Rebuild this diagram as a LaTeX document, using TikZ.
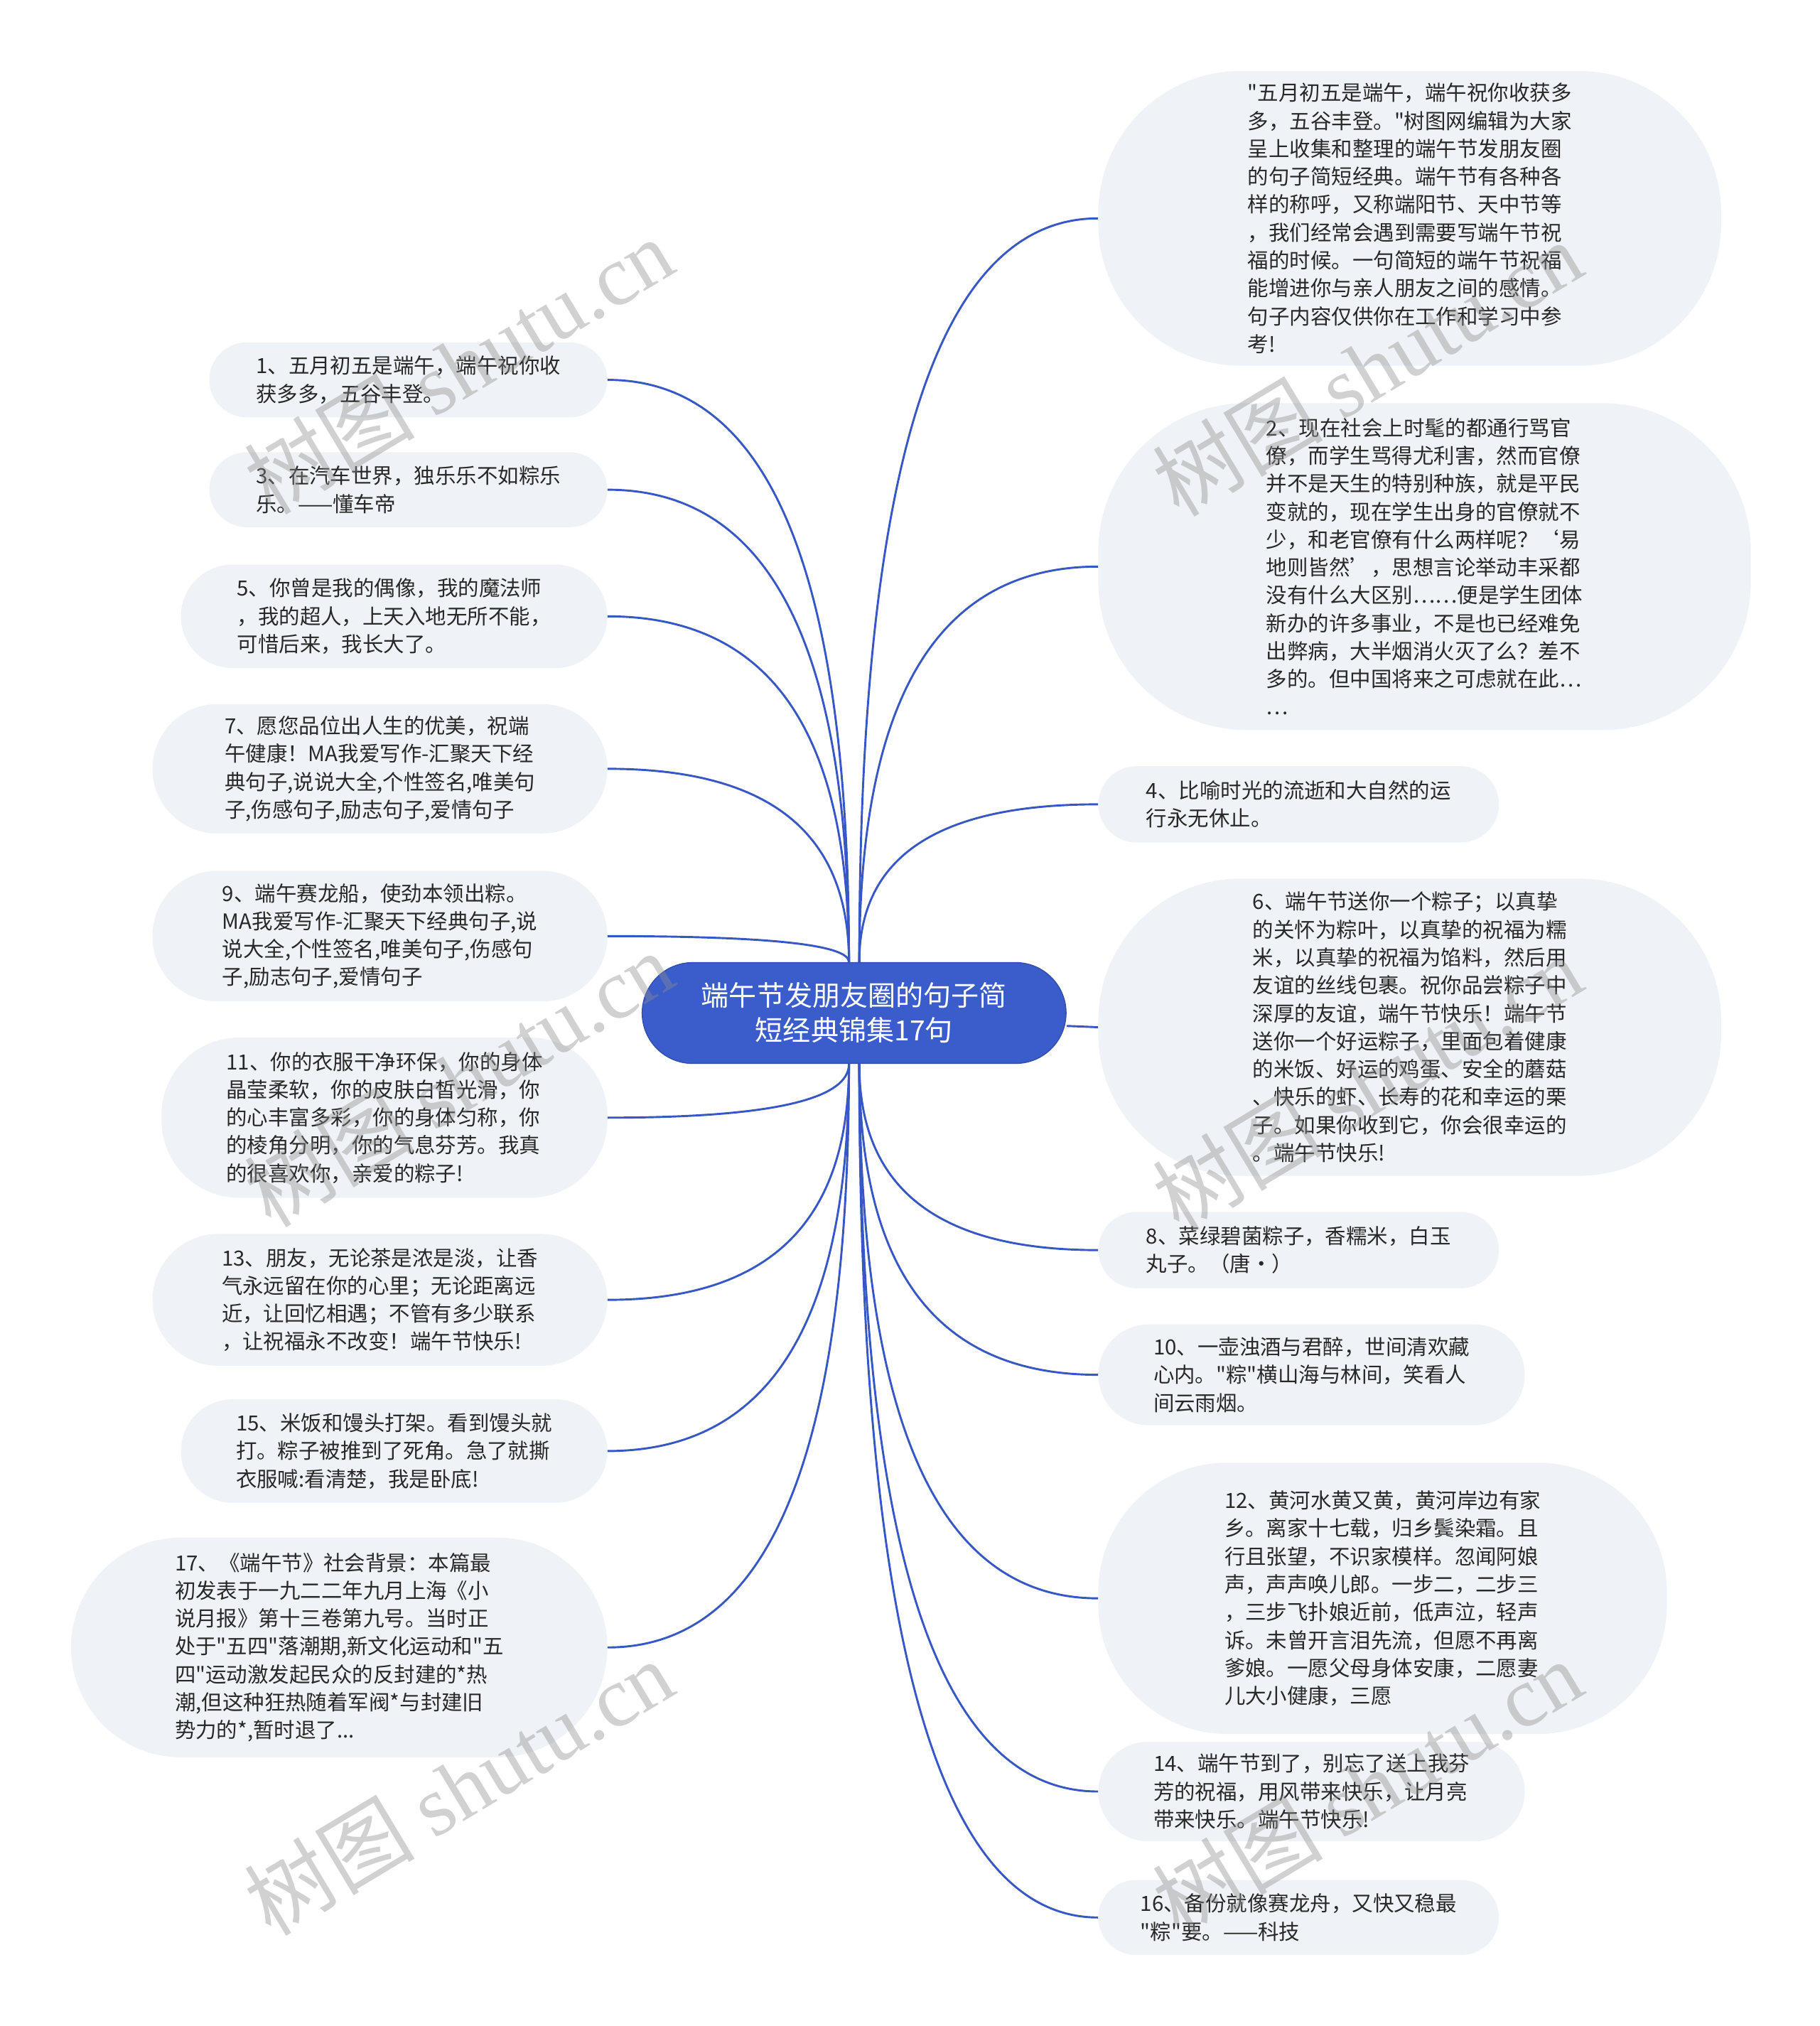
\documentclass[tikz,border=0pt]{standalone}
\usepackage{fontspec}
\setmainfont{Noto Sans CJK SC}[Ligatures=TeXOff]
\newfontfamily\wmlatin{Liberation Serif}
\usetikzlibrary{calc}
\definecolor{rootblue}{RGB}{59,93,204}
\definecolor{edgeblue}{RGB}{55,88,196}
\definecolor{leaffill}{RGB}{239,242,246}
\definecolor{leaftext}{RGB}{40,40,40}
\definecolor{wmgray}{RGB}{140,140,140}
\tikzset{
  leaf/.style={fill=leaffill, text=leaftext, align=left, inner sep=0pt,
    font=\fontsize{16.2}{21.6}\selectfont},
  rootnode/.style={fill=rootblue, draw=rootblue!85!black, line width=0.8pt, text=white,
    align=center, inner sep=0pt, font=\fontsize{21.5}{27}\selectfont},
  branch/.style={draw=edgeblue, line width=1.6pt,
    to path={.. controls ($(\tikztostart)!0.67!(\tikztostart|-\tikztotarget)$)
      and ($(\tikztotarget)!0.67!(\tikztostart|-\tikztotarget)$) .. (\tikztotarget)}},
  wm/.style={text=wmgray, opacity=0.4, rotate=31, inner sep=0pt,
    font=\fontsize{66}{66}\selectfont}
}
\begin{document}
\begin{tikzpicture}[x=1pt,y=-1pt]
\fill[white] (0,0) rectangle (1408,1568);
\useasboundingbox (0,0) rectangle (1408,1568);

% root
\node[rootnode, minimum width=328pt, minimum height=78pt, rounded corners=39pt] (root) at (661,784)
  {端午节发朋友圈的句子简\\短经典锦集17句};

% right side
\node[leaf, minimum width=482pt, minimum height=228pt, rounded corners=110pt] (R1) at (1091,169)
  {"五月初五是端午，端午祝你收获多\\多，五谷丰登。"树图网编辑为大家\\呈上收集和整理的端午节发朋友圈\\的句子简短经典。端午节有各种各\\样的称呼，又称端阳节、天中节等\\，我们经常会遇到需要写端午节祝\\福的时候。一句简短的端午节祝福\\能增进你与亲人朋友之间的感情。\\句子内容仅供你在工作和学习中参\\考!};
\node[leaf, minimum width=505pt, minimum height=253pt, rounded corners=115pt] (R2) at (1102.5,438.5)
  {2、现在社会上时髦的都通行骂官\\僚，而学生骂得尤利害，然而官僚\\并不是天生的特别种族，就是平民\\变就的，现在学生出身的官僚就不\\少，和老官僚有什么两样呢？‘易\\地则皆然’，思想言论举动丰采都\\没有什么大区别……便是学生团体\\新办的许多事业，不是也已经难免\\出弊病，大半烟消火灭了么？差不\\多的。但中国将来之可虑就在此…\\…};
\node[leaf, minimum width=310pt, minimum height=59pt, rounded corners=29.5pt] (R4) at (1005,622.5)
  {4、比喻时光的流逝和大自然的运\\行永无休止。};
\node[leaf, minimum width=482pt, minimum height=230pt, rounded corners=110pt] (R6) at (1091,795)
  {6、端午节送你一个粽子；以真挚\\的关怀为粽叶，以真挚的祝福为糯\\米，以真挚的祝福为馅料，然后用\\友谊的丝线包裹。祝你品尝粽子中\\深厚的友谊，端午节快乐！端午节\\送你一个好运粽子，里面包着健康\\的米饭、好运的鸡蛋、安全的蘑菇\\、快乐的虾、长寿的花和幸运的栗\\子。如果你收到它，你会很幸运的\\。端午节快乐!};
\node[leaf, minimum width=310pt, minimum height=59pt, rounded corners=29.5pt] (R8) at (1005,967.5)
  {8、菜绿碧菌粽子，香糯米，白玉\\丸子。（唐·）};
\node[leaf, minimum width=330pt, minimum height=78pt, rounded corners=39pt] (R10) at (1015,1064)
  {10、一壶浊酒与君醉，世间清欢藏\\心内。"粽"横山海与林间，笑看人\\间云雨烟。};
\node[leaf, minimum width=440pt, minimum height=210pt, rounded corners=100pt] (R12) at (1070,1237)
  {12、黄河水黄又黄，黄河岸边有家\\乡。离家十七载，归乡鬓染霜。且\\行且张望，不识家模样。忽闻阿娘\\声，声声唤儿郎。一步二，二步三\\，三步飞扑娘近前，低声泣，轻声\\诉。未曾开言泪先流，但愿不再离\\爹娘。一愿父母身体安康，二愿妻\\儿大小健康，三愿};
\node[leaf, minimum width=330pt, minimum height=77pt, rounded corners=38.5pt] (R14) at (1015,1386.5)
  {14、端午节到了，别忘了送上我芬\\芳的祝福，用风带来快乐，让月亮\\带来快乐。端午节快乐!};
\node[leaf, minimum width=310pt, minimum height=58pt, rounded corners=29pt] (R16) at (1005,1484)
  {16、备份就像赛龙舟，又快又稳最\\"粽"要。——科技};

% left side
\node[leaf, minimum width=308pt, minimum height=58pt, rounded corners=29pt] (L1) at (316,294)
  {1、五月初五是端午，端午祝你收\\获多多，五谷丰登。};
\node[leaf, minimum width=308pt, minimum height=58pt, rounded corners=29pt] (L3) at (316,379)
  {3、在汽车世界，独乐乐不如粽乐\\乐。——懂车帝};
\node[leaf, minimum width=330pt, minimum height=80pt, rounded corners=40pt] (L5) at (305,477)
  {5、你曾是我的偶像，我的魔法师\\，我的超人，上天入地无所不能，\\可惜后来，我长大了。};
\node[leaf, minimum width=352pt, minimum height=100pt, rounded corners=50pt] (L7) at (294,595)
  {7、愿您品位出人生的优美，祝端\\午健康！MA我爱写作-汇聚天下经\\典句子,说说大全,个性签名,唯美句\\子,伤感句子,励志句子,爱情句子};
\node[leaf, minimum width=352pt, minimum height=101pt, rounded corners=50pt] (L9) at (294,724.5)
  {9、端午赛龙船，使劲本领出粽。\\MA我爱写作-汇聚天下经典句子,说\\说大全,个性签名,唯美句子,伤感句\\子,励志句子,爱情句子};
\node[leaf, minimum width=345pt, minimum height=124pt, rounded corners=60pt] (L11) at (297.5,865)
  {11、你的衣服干净环保，你的身体\\晶莹柔软，你的皮肤白皙光滑，你\\的心丰富多彩，你的身体匀称，你\\的棱角分明，你的气息芬芳。我真\\的很喜欢你，亲爱的粽子!};
\node[leaf, minimum width=352pt, minimum height=102pt, rounded corners=51pt] (L13) at (294,1006)
  {13、朋友，无论茶是浓是淡，让香\\气永远留在你的心里；无论距离远\\近，让回忆相遇；不管有多少联系\\，让祝福永不改变！端午节快乐!};
\node[leaf, minimum width=330pt, minimum height=80pt, rounded corners=40pt] (L15) at (305,1123)
  {15、米饭和馒头打架。看到馒头就\\打。粽子被推到了死角。急了就撕\\衣服喊:看清楚，我是卧底!};
\node[leaf, minimum width=415pt, minimum height=170pt, rounded corners=85pt] (L17) at (262.5,1275)
  {17、《端午节》社会背景：本篇最\\初发表于一九二二年九月上海《小\\说月报》第十三卷第九号。当时正\\处于"五四"落潮期,新文化运动和"五\\四"运动激发起民众的反封建的*热\\潮,但这种狂热随着军阀*与封建旧\\势力的*,暂时退了...};

% connector start points on the root
\coordinate (tl) at ([xshift=-4pt]root.north);
\coordinate (tr) at ([xshift=4pt]root.north);
\coordinate (bl) at ([xshift=-4pt]root.south);
\coordinate (br) at ([xshift=4pt]root.south);
\coordinate (er) at ([yshift=-10pt]root.east);

% connectors
\draw[branch] (tr) to (R1.west);
\draw[branch] (tr) to (R2.west);
\draw[branch] (tr) to (R4.west);
\draw[draw=edgeblue, line width=1.6pt] (er) -- (R6.west);
\draw[branch] (br) to (R8.west);
\draw[branch] (br) to (R10.west);
\draw[branch] (br) to (R12.west);
\draw[branch] (br) to (R14.west);
\draw[branch] (br) to (R16.west);
\draw[branch] (tl) to (L1.east);
\draw[branch] (tl) to (L3.east);
\draw[branch] (tl) to (L5.east);
\draw[branch] (tl) to (L7.east);
\draw[branch] (tl) to (L9.east);
\draw[branch] (bl) to (L11.east);
\draw[branch] (bl) to (L13.east);
\draw[branch] (bl) to (L15.east);
\draw[branch] (bl) to (L17.east);

% watermarks
\node[wm] (wm1) at (355,283) {树图 {\wmlatin shutu.cn}};
\node[wm] (wm2) at (1058,285) {树图 {\wmlatin shutu.cn}};
\node[wm] (wm3) at (355,835) {树图 {\wmlatin shutu.cn}};
\node[wm] (wm4) at (1058,838) {树图 {\wmlatin shutu.cn}};
\node[wm] (wm5) at (355,1383) {树图 {\wmlatin shutu.cn}};
\node[wm] (wm6) at (1058,1383) {树图 {\wmlatin shutu.cn}};
\end{tikzpicture}
\end{document}
